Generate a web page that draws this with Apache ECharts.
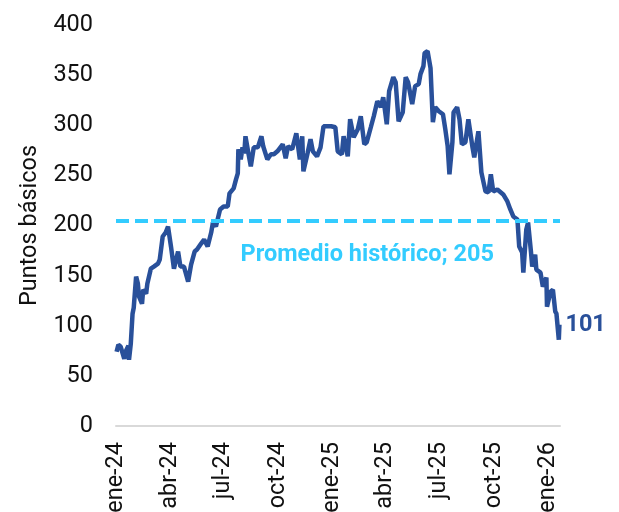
<!DOCTYPE html>
<html>
<head>
<meta charset="utf-8">
<script src="https://cdn.jsdelivr.net/npm/echarts@6/dist/echarts.min.js"></script>
<style>
  html, body { margin: 0; padding: 0; background: #fff; }
  #main { width: 619px; height: 512px; }
</style>
</head>
<body>
<div id="main"></div>
<script>
// Spread data (puntos básicos)
var dates = [
  '2024-01-02','2024-01-05','2024-01-09','2024-01-15','2024-01-18','2024-01-22','2024-01-23','2024-01-26',
  '2024-01-29','2024-01-31','2024-02-04','2024-02-07','2024-02-09','2024-02-14','2024-02-16','2024-02-21',
  '2024-02-23','2024-02-29','2024-03-05','2024-03-12','2024-03-15','2024-03-20','2024-03-25','2024-03-29',
  '2024-04-03','2024-04-08','2024-04-15','2024-04-19','2024-04-25','2024-05-02','2024-05-07','2024-05-13',
  '2024-05-17','2024-05-24','2024-05-29','2024-06-04','2024-06-10','2024-06-13','2024-06-18','2024-06-25',
  '2024-07-01','2024-07-08','2024-07-11','2024-07-18','2024-07-22','2024-07-25','2024-07-26','2024-07-30',
  '2024-08-02','2024-08-05','2024-08-07','2024-08-12','2024-08-16','2024-08-21','2024-08-28','2024-09-03',
  '2024-09-06','2024-09-13','2024-09-19','2024-09-24','2024-09-30','2024-10-09','2024-10-14','2024-10-18',
  '2024-10-25','2024-11-01','2024-11-07','2024-11-11','2024-11-13','2024-11-20','2024-11-25','2024-11-29',
  '2024-12-06','2024-12-12','2024-12-17','2024-12-30','2025-01-06','2025-01-10','2025-01-17','2025-01-20',
  '2025-01-27','2025-01-31','2025-02-06','2025-02-13','2025-02-18','2025-02-24','2025-02-28','2025-03-07',
  '2025-03-12','2025-03-18','2025-03-24','2025-03-28','2025-04-03','2025-04-07','2025-04-14','2025-04-18',
  '2025-04-23','2025-04-30','2025-05-05','2025-05-09','2025-05-16','2025-05-21','2025-05-27','2025-05-30',
  '2025-06-04','2025-06-06','2025-06-11','2025-06-16','2025-06-19','2025-06-20','2025-06-24','2025-06-30',
  '2025-07-07','2025-07-11','2025-07-15','2025-07-18','2025-07-23','2025-07-25','2025-07-31','2025-08-04',
  '2025-08-08','2025-08-14','2025-08-19','2025-08-26','2025-08-29','2025-09-05','2025-09-10','2025-09-17',
  '2025-09-22','2025-09-26','2025-09-30','2025-10-07','2025-10-13','2025-10-17','2025-10-24','2025-10-29',
  '2025-11-03','2025-11-10','2025-11-13','2025-11-18','2025-11-20','2025-11-25','2025-11-28','2025-12-03',
  '2025-12-05','2025-12-10','2025-12-12','2025-12-19','2025-12-23','2025-12-29','2025-12-30','2026-01-05',
  '2026-01-09','2026-01-13','2026-01-15','2026-01-19','2026-01-20'
];
var spread = [
  74, 81, 79, 67, 75, 80, 66, 82,
  112, 118, 149, 142, 129, 122, 136, 132,
  142, 157, 159, 162, 166, 189, 193, 199,
  179, 157, 174, 159, 159, 144, 161, 174,
  176, 182, 186, 179, 193, 203, 199, 216,
  219, 219, 232, 237, 246, 252, 276, 266,
  278, 272, 289, 272, 259, 278, 278, 289,
  279, 266, 271, 271, 274, 281, 267, 279,
  276, 292, 266, 289, 254, 272, 286, 274,
  269, 278, 299, 299, 298, 274, 271, 289,
  269, 306, 288, 296, 309, 281, 283, 298,
  309, 324, 318, 328, 301, 334, 348, 343,
  304, 313, 348, 343, 321, 339, 341, 351,
  359, 372, 374, 357, 316, 303, 318, 314,
  311, 296, 279, 251, 283, 313, 318, 306,
  281, 283, 306, 278, 268, 294, 253, 234,
  233, 251, 234, 236, 233, 231, 224, 216,
  209, 206, 179, 173, 153, 196, 203, 173,
  159, 171, 156, 153, 139, 148, 119, 134,
  136, 114, 112, 86, 101
];
var promedio = 205;
var lastLabel = '101';
var tickDates = ['2024-01-01','2024-04-01','2024-07-01','2024-10-01','2025-01-01','2025-04-01','2025-07-01','2025-10-01','2026-01-01'];
var tickLabels = ['ene-24','abr-24','jul-24','oct-24','ene-25','abr-25','jul-25','oct-25','ene-26'];

// days since 2024-01-01, used as the x value
var DAY0 = Date.UTC(2024, 0, 1);
function toDay(s) {
  var p = s.split('-');
  return Math.round((Date.UTC(+p[0], +p[1] - 1, +p[2]) - DAY0) / 86400000);
}

var tickDays = tickDates.map(toDay);
var seriesData = dates.map(function (d, i) { return [toDay(d), spread[i]]; });

var FS = 23.5;
var chart = echarts.init(document.getElementById('main'), null, { renderer: 'canvas' });

var option = {
  animation: false,
  textStyle: { fontFamily: 'Roboto' },
  grid: { left: 116, right: 59, top: 25, bottom: 86, containLabel: false, outerBoundsMode: 'none' },
  xAxis: {
    type: 'value',
    min: 0,
    max: toDay('2026-01-21'),
    axisLine: { show: true, lineStyle: { color: '#D9D9D9', width: 2 } },
    axisTick: { show: false },
    splitLine: { show: false },
    axisLabel: {
      customValues: tickDays,
      rotate: 90,
      margin: 16,
      color: '#111',
      fontSize: FS,
      fontFamily: 'Roboto',
      formatter: function (val) {
        var i = tickDays.indexOf(val);
        return i >= 0 ? tickLabels[i] : '';
      }
    }
  },
  yAxis: {
    type: 'value',
    min: 0,
    max: 400,
    interval: 50,
    name: 'Puntos básicos',
    nameLocation: 'middle',
    nameGap: 72,
    nameRotate: 90,
    nameTextStyle: { color: '#111', fontSize: FS, fontFamily: 'Roboto' },
    axisLine: { show: false },
    axisTick: { show: false },
    splitLine: { show: false },
    axisLabel: { color: '#111', fontSize: FS, fontFamily: 'Roboto', margin: 23 }
  },
  series: [
    {
      type: 'line',
      data: seriesData,
      showSymbol: false,
      symbol: 'none',
      lineStyle: { color: '#29509A', width: 4.5 },
      endLabel: {
        show: true,
        formatter: lastLabel,
        color: '#29509A',
        fontWeight: 'bold',
        fontSize: FS,
        fontFamily: 'Roboto',
        distance: 6
      },
      markLine: {
        silent: true,
        symbol: 'none',
        lineStyle: { color: '#33CCFF', width: 4, type: [13, 6] },
        label: { show: false },
        data: [{ yAxis: promedio }]
      },
      markPoint: {
        silent: true,
        symbol: 'circle',
        symbolSize: 0,
        label: {
          show: true,
          position: 'inside',
          formatter: 'Promedio histórico; ' + promedio,
          color: '#33CCFF',
          fontWeight: 'bold',
          fontSize: FS,
          fontFamily: 'Roboto'
        },
        data: [{ coord: [toDay('2025-03-01'), 170] }]
      }
    }
  ]
};

chart.setOption(option);
</script>
</body>
</html>
